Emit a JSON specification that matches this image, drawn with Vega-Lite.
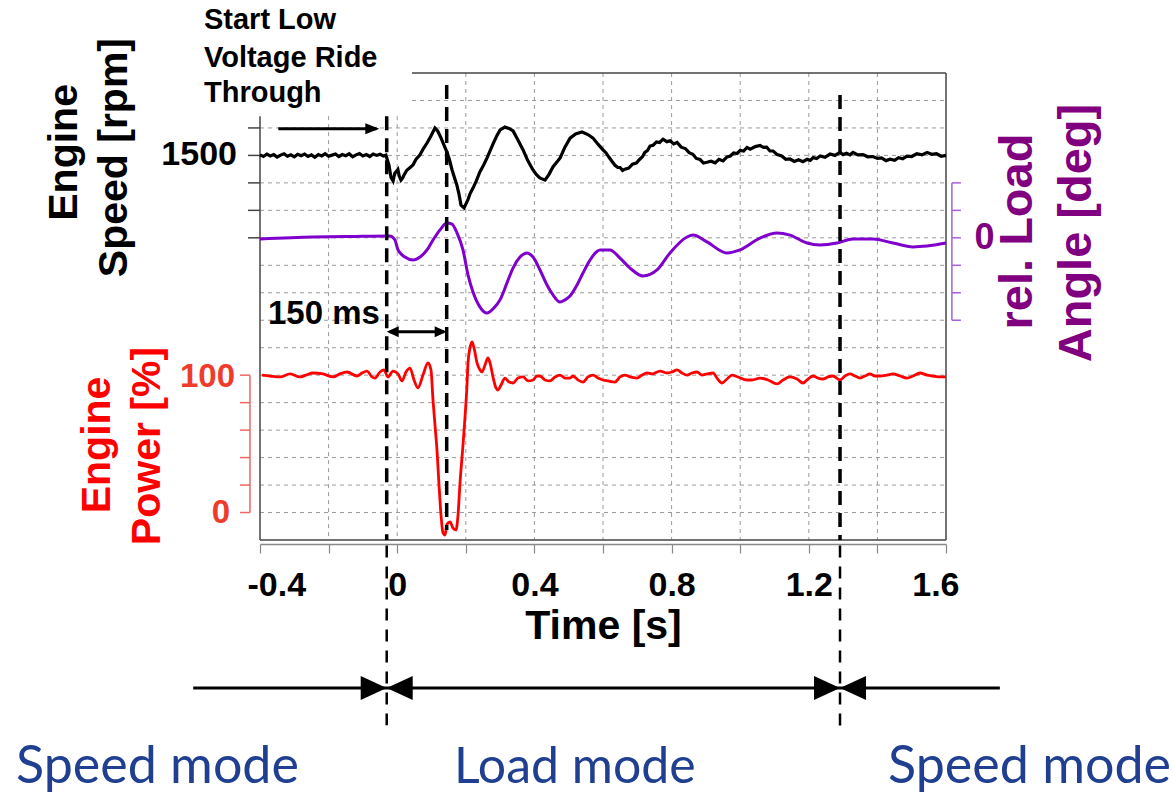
{
"$schema": "https://vega.github.io/schema/vega-lite/v6.json",
"width": 686, "height": 467,
"autosize": "none",
"padding": {"left": 260, "top": 73, "right": 226, "bottom": 253},
"config": {"view": {"stroke": null}, "font": "Liberation Sans", "axisX": {"grid": false}},
"resolve": {"scale": {"y": "independent"}},
"layer": [
{
"layer": [
{"data": {"values": [{"t":0.0431,"t2":1.6,"v":1520},{"t":-0.4,"t2":1.6,"v":1510},{"t":-0.4,"t2":1.6,"v":1500},{"t":-0.4,"t2":1.6,"v":1490},{"t":-0.4,"t2":1.6,"v":1480},{"t":-0.4,"t2":1.6,"v":1470},{"t":-0.4,"t2":1.6,"v":1460},{"t":-0.4,"t2":1.6,"v":1450},{"t":-0.4,"t2":1.6,"v":1440},{"t":-0.4,"t2":1.6,"v":1430},{"t":-0.4,"t2":1.6,"v":1420},{"t":-0.4,"t2":1.6,"v":1410},{"t":-0.4,"t2":1.6,"v":1400},{"t":-0.4,"t2":1.6,"v":1390},{"t":-0.4,"t2":1.6,"v":1380},{"t":-0.4,"t2":1.6,"v":1370}]},
 "mark": {"type": "rule", "color": "#9a9a9a", "strokeWidth": 1, "strokeDash": [4, 4]},
 "encoding": {"x": {"field": "t", "type": "quantitative", "scale": {"domain": [-0.4, 1.6], "nice": false, "zero": false}}, "x2": {"field": "t2"}, "y": {"field": "v", "type": "quantitative", "scale": {"domain": [1360, 1530], "nice": false, "zero": false}, "axis": null}}},
{"data": {"values": [{"t":-0.2,"top":1514.3,"bot":1360},{"t":0,"top":1514.3,"bot":1360},{"t":0.2,"top":1530,"bot":1360},{"t":0.4,"top":1530,"bot":1360},{"t":0.6,"top":1530,"bot":1360},{"t":0.8,"top":1530,"bot":1360},{"t":1.0,"top":1530,"bot":1360},{"t":1.2,"top":1530,"bot":1360},{"t":1.4,"top":1530,"bot":1360}]},
 "mark": {"type": "rule", "color": "#9a9a9a", "strokeWidth": 1, "strokeDash": [4, 4]},
 "encoding": {"x": {"field": "t", "type": "quantitative", "scale": {"domain": [-0.4, 1.6], "nice": false, "zero": false}}, "y": {"field": "top", "type": "quantitative", "scale": {"domain": [1360, 1530], "nice": false, "zero": false}, "axis": null}, "y2": {"field": "bot"}}},
{"data": {"values": [{"t":0.0431,"t2":1.6,"v":1530},{"t":-0.4,"t2":1.6,"v":1360},{"t":-0.435,"t2":-0.4,"v":1510},{"t":-0.435,"t2":-0.4,"v":1500},{"t":-0.435,"t2":-0.4,"v":1490},{"t":-0.435,"t2":-0.4,"v":1480},{"t":-0.435,"t2":-0.4,"v":1470}]},
 "mark": {"type": "rule", "color": "#444444", "strokeWidth": 1.5},
 "encoding": {"x": {"field": "t", "type": "quantitative", "scale": {"domain": [-0.4, 1.6], "nice": false, "zero": false}}, "x2": {"field": "t2"}, "y": {"field": "v", "type": "quantitative", "scale": {"domain": [1360, 1530], "nice": false, "zero": false}, "axis": null}}},
{"data": {"values": [{"t":-0.4,"top":1514.3,"bot":1360},{"t":1.6,"top":1530,"bot":1360}]},
 "mark": {"type": "rule", "color": "#444444", "strokeWidth": 1.5},
 "encoding": {"x": {"field": "t", "type": "quantitative", "scale": {"domain": [-0.4, 1.6], "nice": false, "zero": false}}, "y": {"field": "top", "type": "quantitative", "scale": {"domain": [1360, 1530], "nice": false, "zero": false}, "axis": null}, "y2": {"field": "bot"}}},
{"data": {"values": [
{"t":-0.4,"rpm":1500.2},{"t":-0.39,"rpm":1499.6},{"t":-0.38,"rpm":1500.5},{"t":-0.37,"rpm":1499.8},{"t":-0.36,"rpm":1500.3},{"t":-0.35,"rpm":1499.4},{"t":-0.34,"rpm":1500.1},{"t":-0.33,"rpm":1500.6},{"t":-0.32,"rpm":1499.7},{"t":-0.31,"rpm":1500.2},{"t":-0.30,"rpm":1499.5},{"t":-0.29,"rpm":1500.4},{"t":-0.28,"rpm":1499.9},{"t":-0.27,"rpm":1500.5},{"t":-0.26,"rpm":1499.6},{"t":-0.25,"rpm":1500.2},{"t":-0.24,"rpm":1499.3},{"t":-0.23,"rpm":1500.3},{"t":-0.22,"rpm":1499.8},{"t":-0.21,"rpm":1500.6},{"t":-0.20,"rpm":1499.7},{"t":-0.19,"rpm":1500.1},{"t":-0.18,"rpm":1500.5},{"t":-0.17,"rpm":1499.6},{"t":-0.16,"rpm":1500.3},{"t":-0.15,"rpm":1499.9},{"t":-0.14,"rpm":1500.6},{"t":-0.13,"rpm":1499.5},{"t":-0.12,"rpm":1500.2},{"t":-0.11,"rpm":1500.7},{"t":-0.10,"rpm":1499.8},{"t":-0.09,"rpm":1500.3},{"t":-0.08,"rpm":1499.6},{"t":-0.07,"rpm":1500.5},{"t":-0.06,"rpm":1500.0},{"t":-0.05,"rpm":1500.4},{"t":-0.04,"rpm":1499.8},
{"t":-0.033,"rpm":1500.1},{"t":-0.024,"rpm":1496.5},{"t":-0.018,"rpm":1492.0},{"t":-0.012,"rpm":1490.7},{"t":-0.007,"rpm":1493.5},{"t":-0.0035,"rpm":1494.0},{"t":0.002,"rpm":1494.9},{"t":0.006,"rpm":1492.5},{"t":0.011,"rpm":1491.0},{"t":0.016,"rpm":1491.8},{"t":0.020,"rpm":1492.9},{"t":0.028,"rpm":1494.6},{"t":0.036,"rpm":1495.4},{"t":0.046,"rpm":1496.5},{"t":0.055,"rpm":1498.6},{"t":0.066,"rpm":1500.1},{"t":0.076,"rpm":1502.4},{"t":0.087,"rpm":1504.5},{"t":0.098,"rpm":1507.0},{"t":0.110,"rpm":1510.0},{"t":0.118,"rpm":1508.9},{"t":0.128,"rpm":1506.3},{"t":0.137,"rpm":1503.6},{"t":0.145,"rpm":1501.2},{"t":0.152,"rpm":1498.6},{"t":0.160,"rpm":1494.7},{"t":0.168,"rpm":1491.5},{"t":0.174,"rpm":1489.2},{"t":0.180,"rpm":1486.0},{"t":0.186,"rpm":1481.9},{"t":0.195,"rpm":1480.9},{"t":0.206,"rpm":1483.8},{"t":0.213,"rpm":1486.2},{"t":0.221,"rpm":1488.1},{"t":0.231,"rpm":1490.8},{"t":0.241,"rpm":1494.0},{"t":0.252,"rpm":1496.5},{"t":0.262,"rpm":1499.1},{"t":0.272,"rpm":1502.0},{"t":0.282,"rpm":1504.9},{"t":0.291,"rpm":1507.3},{"t":0.300,"rpm":1509.3},{"t":0.314,"rpm":1510.3},{"t":0.326,"rpm":1509.8},{"t":0.338,"rpm":1508.9},{"t":0.352,"rpm":1505.6},{"t":0.367,"rpm":1502.0},{"t":0.381,"rpm":1498.0},{"t":0.396,"rpm":1494.7},{"t":0.406,"rpm":1493.0},{"t":0.416,"rpm":1491.8},{"t":0.431,"rpm":1491.0},{"t":0.443,"rpm":1493.2},{"t":0.454,"rpm":1495.8},{"t":0.465,"rpm":1497.5},{"t":0.475,"rpm":1499.1},{"t":0.489,"rpm":1503.0},{"t":0.504,"rpm":1506.3},{"t":0.520,"rpm":1507.8},{"t":0.539,"rpm":1508.5},{"t":0.556,"rpm":1507.6},{"t":0.571,"rpm":1506.3},{"t":0.586,"rpm":1504.0},
{"t":0.600,"rpm":1502.0},{"t":0.609,"rpm":1500.9},{"t":0.617,"rpm":1499.4},{"t":0.626,"rpm":1497.9},{"t":0.635,"rpm":1496.4},{"t":0.643,"rpm":1495.6},{"t":0.650,"rpm":1495.6},{"t":0.657,"rpm":1494.5},{"t":0.664,"rpm":1495.0},{"t":0.675,"rpm":1495.4},{"t":0.686,"rpm":1496.8},{"t":0.697,"rpm":1497.2},{"t":0.708,"rpm":1498.7},{"t":0.715,"rpm":1499.5},{"t":0.722,"rpm":1501.1},{"t":0.730,"rpm":1501.8},{"t":0.737,"rpm":1503.4},{"t":0.746,"rpm":1503.7},{"t":0.756,"rpm":1504.9},{"t":0.765,"rpm":1504.7},{"t":0.775,"rpm":1505.9},{"t":0.786,"rpm":1505.0},{"t":0.796,"rpm":1505.3},{"t":0.806,"rpm":1504.2},{"t":0.816,"rpm":1504.7},{"t":0.828,"rpm":1503.0},{"t":0.840,"rpm":1502.5},{"t":0.851,"rpm":1501.0},{"t":0.862,"rpm":1500.4},{"t":0.872,"rpm":1498.9},{"t":0.883,"rpm":1498.5},{"t":0.893,"rpm":1497.2},
{"t":0.903,"rpm":1497.5},{"t":0.915,"rpm":1497.9},{"t":0.927,"rpm":1497.3},{"t":0.938,"rpm":1498.6},{"t":0.950,"rpm":1498.0},{"t":0.961,"rpm":1499.4},{"t":0.971,"rpm":1499.8},{"t":0.981,"rpm":1500.9},{"t":0.991,"rpm":1500.7},{"t":1.0,"rpm":1501.8},{"t":1.010,"rpm":1501.6},{"t":1.02,"rpm":1502.9},{"t":1.029,"rpm":1502.3},{"t":1.044,"rpm":1503.2},{"t":1.058,"rpm":1503.6},{"t":1.068,"rpm":1502.9},{"t":1.077,"rpm":1503.0},{"t":1.087,"rpm":1501.6},{"t":1.096,"rpm":1501.6},{"t":1.108,"rpm":1500.3},{"t":1.121,"rpm":1499.8},{"t":1.133,"rpm":1498.6},{"t":1.145,"rpm":1498.7},{"t":1.158,"rpm":1497.8},{"t":1.170,"rpm":1498.4},{"t":1.183,"rpm":1497.7},{"t":1.195,"rpm":1498.6},{"t":1.204,"rpm":1498.2},{"t":1.213,"rpm":1499.2},{"t":1.223,"rpm":1498.9},{"t":1.233,"rpm":1499.8},{"t":1.247,"rpm":1499.3},{"t":1.262,"rpm":1500.5},{"t":1.276,"rpm":1500.0},{"t":1.291,"rpm":1501.1},{"t":1.30,"rpm":1500.3},{"t":1.310,"rpm":1500.8},{"t":1.32,"rpm":1500.2},{"t":1.329,"rpm":1501.1},{"t":1.343,"rpm":1500.2},{"t":1.358,"rpm":1500.3},{"t":1.372,"rpm":1499.5},{"t":1.387,"rpm":1499.6},{"t":1.40,"rpm":1498.9},{"t":1.412,"rpm":1499.1},{"t":1.425,"rpm":1498.1},{"t":1.437,"rpm":1498.6},{"t":1.45,"rpm":1498.2},{"t":1.462,"rpm":1499.2},{"t":1.474,"rpm":1498.8},{"t":1.486,"rpm":1499.7},{"t":1.50,"rpm":1499.6},{"t":1.515,"rpm":1500.6},{"t":1.53,"rpm":1500.2},{"t":1.545,"rpm":1501.1},{"t":1.558,"rpm":1500.4},{"t":1.572,"rpm":1500.6},{"t":1.586,"rpm":1499.7},{"t":1.600,"rpm":1500.0}
]},
 "mark": {"type": "line", "color": "#000000", "strokeWidth": 3.2},
 "encoding": {
  "x": {"field": "t", "type": "quantitative", "scale": {"domain": [-0.4, 1.6], "nice": false, "zero": false},
   "axis": {"values": [-0.4,-0.2,0,0.2,0.4,0.6,0.8,1.0,1.2,1.4,1.6], "labelExpr": "abs(round(datum.value*10)) % 4 == 0 ? datum.value + '' : ''", "grid": false, "offset": 4, "domainColor": "#888888", "domainWidth": 1.5, "tickColor": "#888888", "tickWidth": 1.2, "tickSize": 9, "labelFont": "Liberation Sans", "labelFontWeight": "bold", "labelFontSize": 34, "labelColor": "#000000", "labelPadding": 15, "labelFlush": true, "labelFlushOffset": 13, "labelOverlap": false, "labelBound": false, "title": "Time [s]", "titleFont": "Liberation Sans", "titleFontWeight": "bold", "titleFontSize": 41, "titleColor": "#000000", "titleBaseline": "alphabetic", "titleY": 94}},
  "y": {"field": "rpm", "type": "quantitative", "scale": {"domain": [1360, 1530], "nice": false, "zero": false}, "axis": null}}},
{"data": {"values": [{"t":-0.4671,"v":1500,"label":"1500"}]},
 "mark": {"type": "text", "font": "Liberation Sans", "fontWeight": "bold", "fontSize": 34, "align": "right", "baseline": "middle", "color": "#000000"},
 "encoding": {"x": {"field": "t", "type": "quantitative", "scale": {"domain": [-0.4, 1.6], "nice": false, "zero": false}}, "y": {"field": "v", "type": "quantitative", "scale": {"domain": [1360, 1530], "nice": false, "zero": false}, "axis": null}, "text": {"field": "label"}}},
{"data": {"values": [{"t":-0.9335,"v":1501.1,"label":"Engine"},{"t":-0.7878,"v":1499.2,"label":"Speed [rpm]"}]},
 "mark": {"type": "text", "font": "Liberation Sans", "fontWeight": "bold", "fontSize": 41, "angle": 270, "align": "center", "baseline": "alphabetic", "color": "#000000"},
 "encoding": {"x": {"field": "t", "type": "quantitative", "scale": {"domain": [-0.4, 1.6], "nice": false, "zero": false}}, "y": {"field": "v", "type": "quantitative", "scale": {"domain": [1360, 1530], "nice": false, "zero": false}, "axis": null}, "text": {"field": "label"}}}
]
},
{
"layer": [
{"data": {"values": [
{"t":-0.4,"a":-0.4},{"t":-0.2455,"a":0.3},{"t":-0.1376,"a":0.5},{"t":-0.021,"a":0.7},{"t":-0.0064,"a":-0.8},{"t":0.0023,"a":-4.4},{"t":0.0227,"a":-7.0},{"t":0.0461,"a":-8.1},{"t":0.0665,"a":-7.0},{"t":0.0869,"a":-4.4},{"t":0.1044,"a":-0.8},{"t":0.1248,"a":2.9},{"t":0.1452,"a":5.4},{"t":0.1598,"a":5.0},{"t":0.1743,"a":1.8},{"t":0.1918,"a":-4.4},{"t":0.2064,"a":-13.5},{"t":0.221,"a":-19.7},{"t":0.2414,"a":-25.2},{"t":0.2618,"a":-27.4},{"t":0.2822,"a":-25.5},{"t":0.2997,"a":-22.6},{"t":0.3201,"a":-16.4},{"t":0.3376,"a":-11.0},{"t":0.358,"a":-7.0},{"t":0.3784,"a":-5.5},{"t":0.3959,"a":-7.0},{"t":0.4163,"a":-11.7},{"t":0.4367,"a":-17.2},{"t":0.4542,"a":-20.8},{"t":0.4746,"a":-23.4},{"t":0.4892,"a":-22.6},{"t":0.5038,"a":-21.2},{"t":0.5242,"a":-17.2},{"t":0.5417,"a":-12.8},{"t":0.5621,"a":-8.1},{"t":0.5913,"a":-4.4},{"t":0.6204,"a":-4.4},{"t":0.6496,"a":-7.4},{"t":0.6787,"a":-11.0},{"t":0.7166,"a":-13.9},{"t":0.7575,"a":-11.7},{"t":0.7953,"a":-5.5},{"t":0.8449,"a":0.3},{"t":0.8624,"a":1.0},{"t":0.9032,"a":-1.5},{"t":0.9615,"a":-5.5},{"t":0.9994,"a":-4.4},{"t":1.0577,"a":-0.1},{"t":1.1073,"a":1.8},{"t":1.1452,"a":1.0},{"t":1.1948,"a":-1.9},{"t":1.2326,"a":-2.6},{"t":1.2822,"a":-1.9},{"t":1.3289,"a":-0.4},{"t":1.3872,"a":-0.4},{"t":1.4455,"a":-1.9},{"t":1.5038,"a":-3.3},{"t":1.5446,"a":-3.0},{"t":1.6,"a":-1.9}
]},
 "mark": {"type": "line", "color": "#7f00cc", "strokeWidth": 3, "interpolate": "monotone"},
 "encoding": {"x": {"field": "t", "type": "quantitative", "scale": {"domain": [-0.4, 1.6], "nice": false, "zero": false}}, "y": {"field": "a", "type": "quantitative", "scale": {"domain": [-110, 60], "nice": false, "zero": false}, "axis": null}}},
{"data": {"values": [{"t":1.6172,"t2":1.6434,"v":20},{"t":1.6172,"t2":1.6434,"v":10},{"t":1.6172,"t2":1.6434,"v":0},{"t":1.6172,"t2":1.6434,"v":-10},{"t":1.6172,"t2":1.6434,"v":-20},{"t":1.6172,"t2":1.6434,"v":-30}]},
 "mark": {"type": "rule", "color": "#a860d8", "strokeWidth": 1.5},
 "encoding": {"x": {"field": "t", "type": "quantitative", "scale": {"domain": [-0.4, 1.6], "nice": false, "zero": false}}, "x2": {"field": "t2"}, "y": {"field": "v", "type": "quantitative", "scale": {"domain": [-110, 60], "nice": false, "zero": false}, "axis": null}}},
{"data": {"values": [{"t":1.6172,"top":20,"bot":-30}]},
 "mark": {"type": "rule", "color": "#a860d8", "strokeWidth": 1.5},
 "encoding": {"x": {"field": "t", "type": "quantitative", "scale": {"domain": [-0.4, 1.6], "nice": false, "zero": false}}, "y": {"field": "top", "type": "quantitative", "scale": {"domain": [-110, 60], "nice": false, "zero": false}, "axis": null}, "y2": {"field": "bot"}}},
{"data": {"values": [{"t":1.7122,"v":0,"label":"0"}]},
 "mark": {"type": "text", "font": "Liberation Sans", "fontWeight": "bold", "fontSize": 36, "align": "center", "baseline": "middle", "color": "#800080"},
 "encoding": {"x": {"field": "t", "type": "quantitative", "scale": {"domain": [-0.4, 1.6], "nice": false, "zero": false}}, "y": {"field": "v", "type": "quantitative", "scale": {"domain": [-110, 60], "nice": false, "zero": false}, "axis": null}, "text": {"field": "label"}}},
{"data": {"values": [{"t":1.8507,"v":2.3,"label":"rel. Load"},{"t":2.0227,"v":1.75,"label":"Angle [deg]"}]},
 "mark": {"type": "text", "font": "Liberation Sans", "fontWeight": "bold", "fontSize": 47, "angle": 270, "align": "center", "baseline": "alphabetic", "color": "#800080"},
 "encoding": {"x": {"field": "t", "type": "quantitative", "scale": {"domain": [-0.4, 1.6], "nice": false, "zero": false}}, "y": {"field": "v", "type": "quantitative", "scale": {"domain": [-110, 60], "nice": false, "zero": false}, "axis": null}, "text": {"field": "label"}}}
]
},
{
"layer": [
{"data": {"values": [
{"t":-0.3942,"p":100.1},{"t":-0.3708,"p":99.4},{"t":-0.3417,"p":98.7},{"t":-0.3125,"p":100.9},{"t":-0.2834,"p":98.7},{"t":-0.2659,"p":100.1},{"t":-0.2455,"p":101.6},{"t":-0.2163,"p":100.9},{"t":-0.1872,"p":98.7},{"t":-0.1668,"p":100.9},{"t":-0.1464,"p":102.3},{"t":-0.1172,"p":99.4},{"t":-0.1026,"p":101.6},{"t":-0.088,"p":103.0},{"t":-0.0735,"p":98.7},{"t":-0.0647,"p":97.9},{"t":-0.0501,"p":102.3},{"t":-0.0385,"p":103.8},{"t":-0.0268,"p":98.7},{"t":-0.0122,"p":103.0},{"t":0.0023,"p":100.9},{"t":0.014,"p":95.8},{"t":0.0257,"p":102.3},{"t":0.0373,"p":105.2},{"t":0.049,"p":96.5},{"t":0.0606,"p":90.7},{"t":0.0752,"p":100.1},{"t":0.0898,"p":108.9},{"t":0.0985,"p":103.8},{"t":0.1044,"p":81.9},{"t":0.1102,"p":63.7},{"t":0.116,"p":45.5},{"t":0.1219,"p":20.0},{"t":0.1277,"p":-1.8},{"t":0.1335,"p":-14.9},{"t":0.1394,"p":-16.4},{"t":0.1452,"p":-8.4},{"t":0.1539,"p":-6.9},{"t":0.1627,"p":-11.3},{"t":0.1714,"p":-12.7},{"t":0.1773,"p":-1.8},{"t":0.1831,"p":21.5},{"t":0.1918,"p":49.2},{"t":0.1977,"p":69.5},{"t":0.2035,"p":92.8},{"t":0.2064,"p":108.9},{"t":0.2122,"p":119.8},{"t":0.2181,"p":124.2},{"t":0.2239,"p":119.8},{"t":0.2327,"p":108.9},{"t":0.2414,"p":103.8},{"t":0.2472,"p":102.3},{"t":0.256,"p":107.4},{"t":0.2647,"p":112.5},{"t":0.2706,"p":108.9},{"t":0.2793,"p":98.7},{"t":0.288,"p":90.7},{"t":0.2939,"p":89.2},{"t":0.3026,"p":92.8},{"t":0.3143,"p":97.9},{"t":0.3259,"p":95.0},{"t":0.3376,"p":94.3},{"t":0.3522,"p":97.9},{"t":0.3668,"p":98.7},{"t":0.3813,"p":95.8},{"t":0.3959,"p":96.5},{"t":0.4076,"p":99.4},{"t":0.4163,"p":99.4},{"t":0.4309,"p":96.5},{"t":0.4455,"p":95.8},{"t":0.4601,"p":98.7},{"t":0.4746,"p":100.1},{"t":0.4892,"p":97.9},{"t":0.5038,"p":97.9},{"t":0.5125,"p":99.4},{"t":0.5271,"p":96.5},{"t":0.5417,"p":95.0},{"t":0.5563,"p":98.7},{"t":0.5708,"p":100.1},{"t":0.5854,"p":97.9},{"t":0.6,"p":96.5},{"t":0.6146,"p":95.8},{"t":0.635,"p":95.0},{"t":0.6496,"p":98.7},{"t":0.6641,"p":100.1},{"t":0.6787,"p":98.7},{"t":0.6991,"p":97.9},{"t":0.7137,"p":100.1},{"t":0.7283,"p":101.6},{"t":0.7429,"p":100.9},{"t":0.7662,"p":103.0},{"t":0.7866,"p":101.6},{"t":0.8012,"p":102.3},{"t":0.8157,"p":103.8},{"t":0.8303,"p":101.6},{"t":0.8449,"p":100.1},{"t":0.8595,"p":101.6},{"t":0.8741,"p":102.3},{"t":0.8886,"p":100.1},{"t":0.9032,"p":100.9},{"t":0.9207,"p":101.6},{"t":0.9324,"p":97.9},{"t":0.9469,"p":94.3},{"t":0.9615,"p":97.2},{"t":0.9761,"p":100.1},{"t":0.9936,"p":98.7},{"t":1.0198,"p":96.5},{"t":1.0344,"p":96.5},{"t":1.0577,"p":97.9},{"t":1.081,"p":96.5},{"t":1.1073,"p":93.6},{"t":1.1248,"p":96.5},{"t":1.1452,"p":98.7},{"t":1.1656,"p":97.2},{"t":1.1831,"p":94.3},{"t":1.1977,"p":97.2},{"t":1.2122,"p":99.4},{"t":1.2268,"p":97.9},{"t":1.2414,"p":97.2},{"t":1.256,"p":98.7},{"t":1.2706,"p":99.4},{"t":1.291,"p":96.5},{"t":1.3055,"p":99.4},{"t":1.3201,"p":100.9},{"t":1.3347,"p":99.4},{"t":1.3493,"p":97.9},{"t":1.3638,"p":99.4},{"t":1.3784,"p":100.9},{"t":1.393,"p":99.4},{"t":1.4076,"p":99.4},{"t":1.428,"p":100.1},{"t":1.4455,"p":100.9},{"t":1.4659,"p":99.4},{"t":1.4863,"p":97.9},{"t":1.5038,"p":99.4},{"t":1.5242,"p":101.6},{"t":1.5446,"p":100.1},{"t":1.5621,"p":99.4},{"t":1.5825,"p":98.7},{"t":1.6,"p":98.7}
]},
 "mark": {"type": "line", "color": "#ff0000", "strokeWidth": 2.8, "interpolate": "monotone"},
 "encoding": {"x": {"field": "t", "type": "quantitative", "scale": {"domain": [-0.4, 1.6], "nice": false, "zero": false}}, "y": {"field": "p", "type": "quantitative", "scale": {"domain": [-20, 320], "nice": false, "zero": false}, "axis": null}}},
{"data": {"values": [{"t":-0.4583,"t2":-0.4292,"v":0},{"t":-0.4583,"t2":-0.4292,"v":20},{"t":-0.4583,"t2":-0.4292,"v":40},{"t":-0.4583,"t2":-0.4292,"v":60},{"t":-0.4583,"t2":-0.4292,"v":80},{"t":-0.4583,"t2":-0.4292,"v":100}]},
 "mark": {"type": "rule", "color": "#f06666", "strokeWidth": 1.5},
 "encoding": {"x": {"field": "t", "type": "quantitative", "scale": {"domain": [-0.4, 1.6], "nice": false, "zero": false}}, "x2": {"field": "t2"}, "y": {"field": "v", "type": "quantitative", "scale": {"domain": [-20, 320], "nice": false, "zero": false}, "axis": null}}},
{"data": {"values": [{"t":-0.4292,"top":100,"bot":0}]},
 "mark": {"type": "rule", "color": "#f06666", "strokeWidth": 1.5},
 "encoding": {"x": {"field": "t", "type": "quantitative", "scale": {"domain": [-0.4, 1.6], "nice": false, "zero": false}}, "y": {"field": "top", "type": "quantitative", "scale": {"domain": [-20, 320], "nice": false, "zero": false}, "axis": null}, "y2": {"field": "bot"}}},
{"data": {"values": [{"t":-0.4729,"v":98.5,"label":"100"},{"t":-0.4875,"v":0,"label":"0"}]},
 "mark": {"type": "text", "font": "Liberation Sans", "fontWeight": "bold", "fontSize": 33, "align": "right", "baseline": "middle", "color": "#ef3b2c"},
 "encoding": {"x": {"field": "t", "type": "quantitative", "scale": {"domain": [-0.4, 1.6], "nice": false, "zero": false}}, "y": {"field": "v", "type": "quantitative", "scale": {"domain": [-20, 320], "nice": false, "zero": false}, "axis": null}, "text": {"field": "label"}}},
{"data": {"values": [{"t":-0.8373,"v":49.2,"label":"Engine"},{"t":-0.6915,"v":48.4,"label":"Power [%]"}]},
 "mark": {"type": "text", "font": "Liberation Sans", "fontWeight": "bold", "fontSize": 41, "angle": 270, "align": "center", "baseline": "alphabetic", "color": "#ff0000"},
 "encoding": {"x": {"field": "t", "type": "quantitative", "scale": {"domain": [-0.4, 1.6], "nice": false, "zero": false}}, "y": {"field": "v", "type": "quantitative", "scale": {"domain": [-20, 320], "nice": false, "zero": false}, "axis": null}, "text": {"field": "label"}}}
]
},
{
"layer": [
{"data": {"values": [{"t":-0.0306,"top":1514.3,"bot":1360},{"t":0.1443,"top":1525.6,"bot":1363.6},{"t":1.291,"top":1522,"bot":1360}]},
 "mark": {"type": "rule", "color": "#000000", "strokeWidth": 3.5, "strokeDash": [14, 8]},
 "encoding": {"x": {"field": "t", "type": "quantitative", "scale": {"domain": [-0.4, 1.6], "nice": false, "zero": false}}, "y": {"field": "top", "type": "quantitative", "scale": {"domain": [1360, 1530], "nice": false, "zero": false}, "axis": null}, "y2": {"field": "bot"}}},
{"data": {"values": [{"t":-0.0306,"top":1358,"bot":1292.6},{"t":1.291,"top":1358,"bot":1290.8}]},
 "mark": {"type": "rule", "color": "#000000", "strokeWidth": 2.5, "strokeDash": [12, 9]},
 "encoding": {"x": {"field": "t", "type": "quantitative", "scale": {"domain": [-0.4, 1.6], "nice": false, "zero": false}}, "y": {"field": "top", "type": "quantitative", "scale": {"domain": [1360, 1530], "nice": false, "zero": false}, "axis": null}, "y2": {"field": "bot"}}},
{"data": {"values": [{"t":-0.3466,"t2":-0.06,"v":1509.7},{"t":-0.022,"t2":0.136,"v":1435.8},{"t":-0.5948,"t2":1.757,"v":1306.1}]},
 "mark": {"type": "rule", "color": "#000000", "strokeWidth": 3},
 "encoding": {"x": {"field": "t", "type": "quantitative", "scale": {"domain": [-0.4, 1.6], "nice": false, "zero": false}}, "x2": {"field": "t2"}, "y": {"field": "v", "type": "quantitative", "scale": {"domain": [1360, 1530], "nice": false, "zero": false}, "axis": null}}},
{"data": {"values": [{"t":-0.0522,"v":1509.7}]},
 "mark": {"type": "point", "shape": "M-1,-0.4L0,0L-1,0.4Z", "size": 784, "filled": true, "color": "#000000", "opacity": 1, "strokeWidth": 0},
 "encoding": {"x": {"field": "t", "type": "quantitative", "scale": {"domain": [-0.4, 1.6], "nice": false, "zero": false}}, "y": {"field": "v", "type": "quantitative", "scale": {"domain": [1360, 1530], "nice": false, "zero": false}, "axis": null}}},
{"data": {"values": [{"t":0.1443,"v":1435.8}]},
 "mark": {"type": "point", "shape": "M-1,-0.45L0,0L-1,0.45Z", "size": 576, "filled": true, "color": "#000000", "opacity": 1, "strokeWidth": 0},
 "encoding": {"x": {"field": "t", "type": "quantitative", "scale": {"domain": [-0.4, 1.6], "nice": false, "zero": false}}, "y": {"field": "v", "type": "quantitative", "scale": {"domain": [1360, 1530], "nice": false, "zero": false}, "axis": null}}},
{"data": {"values": [{"t":-0.0306,"v":1435.8}]},
 "mark": {"type": "point", "shape": "M1,-0.45L0,0L1,0.45Z", "size": 576, "filled": true, "color": "#000000", "opacity": 1, "strokeWidth": 0},
 "encoding": {"x": {"field": "t", "type": "quantitative", "scale": {"domain": [-0.4, 1.6], "nice": false, "zero": false}}, "y": {"field": "v", "type": "quantitative", "scale": {"domain": [1360, 1530], "nice": false, "zero": false}, "axis": null}}},
{"data": {"values": [{"t":-0.0306,"v":1306.1},{"t":1.291,"v":1306.1}]},
 "mark": {"type": "point", "shape": "M-1,-0.46L0,0L-1,0.46Z M1,-0.46L0,0L1,0.46Z", "size": 2704, "filled": true, "color": "#000000", "opacity": 1, "strokeWidth": 0},
 "encoding": {"x": {"field": "t", "type": "quantitative", "scale": {"domain": [-0.4, 1.6], "nice": false, "zero": false}}, "y": {"field": "v", "type": "quantitative", "scale": {"domain": [1360, 1530], "nice": false, "zero": false}, "axis": null}}},
{"data": {"values": [{"t":-0.5633,"v":1545.9,"label":"Start Low"},{"t":-0.5633,"v":1532.3,"label":"Voltage Ride"},{"t":-0.5633,"v":1519.55,"label":"Through"}]},
 "mark": {"type": "text", "font": "Liberation Sans", "fontWeight": "bold", "fontSize": 29, "align": "left", "baseline": "alphabetic", "color": "#000000"},
 "encoding": {"x": {"field": "t", "type": "quantitative", "scale": {"domain": [-0.4, 1.6], "nice": false, "zero": false}}, "y": {"field": "v", "type": "quantitative", "scale": {"domain": [1360, 1530], "nice": false, "zero": false}, "axis": null}, "text": {"field": "label"}}},
{"data": {"values": [{"t":-0.3767,"v":1438.6,"label":"150 ms"}]},
 "mark": {"type": "text", "font": "Liberation Sans", "fontWeight": "bold", "fontSize": 33, "align": "left", "baseline": "alphabetic", "color": "#000000"},
 "encoding": {"x": {"field": "t", "type": "quantitative", "scale": {"domain": [-0.4, 1.6], "nice": false, "zero": false}}, "y": {"field": "v", "type": "quantitative", "scale": {"domain": [1360, 1530], "nice": false, "zero": false}, "axis": null}, "text": {"field": "label"}}},
{"data": {"values": [{"t":-1.1114,"v":1271.5,"label":"Speed mode"},{"t":1.4309,"v":1271.5,"label":"Speed mode"}]},
 "mark": {"type": "text", "font": "Lato", "fontSize": 52, "align": "left", "baseline": "alphabetic", "color": "#203f90"},
 "encoding": {"x": {"field": "t", "type": "quantitative", "scale": {"domain": [-0.4, 1.6], "nice": false, "zero": false}}, "y": {"field": "v", "type": "quantitative", "scale": {"domain": [1360, 1530], "nice": false, "zero": false}, "axis": null}, "text": {"field": "label"}}},
{"data": {"values": [{"t":0.1656,"v":1271.5,"label":"Load mode"}]},
 "mark": {"type": "text", "font": "Lato", "fontSize": 50, "align": "left", "baseline": "alphabetic", "color": "#203f90"},
 "encoding": {"x": {"field": "t", "type": "quantitative", "scale": {"domain": [-0.4, 1.6], "nice": false, "zero": false}}, "y": {"field": "v", "type": "quantitative", "scale": {"domain": [1360, 1530], "nice": false, "zero": false}, "axis": null}, "text": {"field": "label"}}}
]
}
]
}
